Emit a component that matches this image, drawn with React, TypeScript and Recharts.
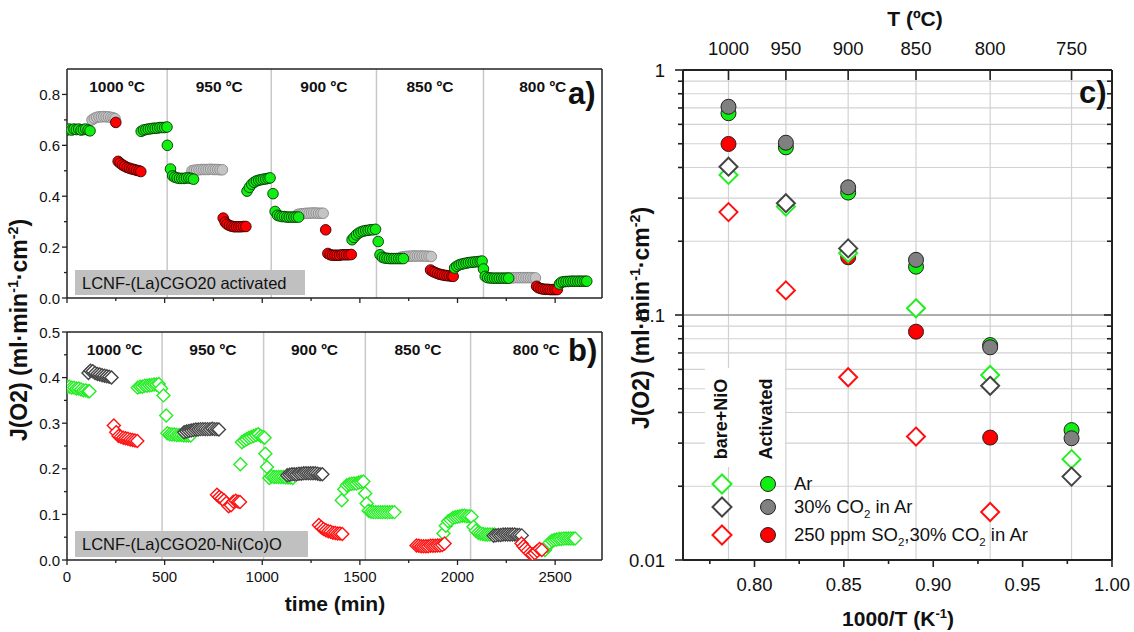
import React from "react";
import {
  ScatterChart,
  Scatter,
  XAxis,
  YAxis,
  CartesianGrid,
  ReferenceLine,
  ReferenceArea,
} from "recharts";

const FONT = "'Liberation Sans', Arial, Helvetica, sans-serif";

// panel a: LCNF-(La)CGO20 activated, [time (min), J(O2)]
const aAr = [
  [0, 0.66], [12, 0.664], [24, 0.66], [36, 0.664], [48, 0.662], [60, 0.664], [72, 0.66], [84, 0.662], [96, 0.664], [108, 0.66], [118, 0.657],
  [380, 0.655], [392, 0.66], [404, 0.662], [416, 0.664], [428, 0.665], [440, 0.667], [452, 0.667], [464, 0.668], [476, 0.67], [488, 0.67], [500, 0.67], [512, 0.672],
  [514, 0.6], [530, 0.507], [541, 0.48], [552, 0.475], [564, 0.472], [576, 0.47], [588, 0.47], [600, 0.47], [612, 0.472], [624, 0.472], [636, 0.47], [648, 0.467],
  [922, 0.42], [934, 0.435], [946, 0.447], [958, 0.455], [970, 0.46], [982, 0.463], [994, 0.465], [1006, 0.467], [1018, 0.468], [1030, 0.47], [1040, 0.472],
  [1055, 0.41], [1066, 0.34], [1078, 0.325], [1090, 0.322], [1102, 0.32], [1114, 0.32], [1126, 0.318], [1138, 0.318], [1150, 0.318], [1162, 0.318], [1174, 0.318], [1186, 0.318],
  [1460, 0.229], [1470, 0.238], [1482, 0.248], [1494, 0.255], [1506, 0.26], [1518, 0.263], [1530, 0.265], [1542, 0.266], [1554, 0.268], [1566, 0.268], [1580, 0.27],
  [1594, 0.222], [1603, 0.17], [1615, 0.16], [1627, 0.157], [1639, 0.156], [1651, 0.155], [1663, 0.155], [1675, 0.155], [1687, 0.155], [1699, 0.155], [1711, 0.155], [1723, 0.155],
  [1985, 0.118], [1996, 0.125], [2008, 0.13], [2020, 0.133], [2032, 0.135], [2044, 0.137], [2056, 0.139], [2068, 0.14], [2080, 0.141], [2092, 0.142], [2104, 0.143], [2116, 0.144], [2126, 0.145],
  [2133, 0.114], [2142, 0.085], [2154, 0.08], [2166, 0.079], [2178, 0.078], [2190, 0.078], [2202, 0.078], [2214, 0.078], [2226, 0.078], [2238, 0.078], [2250, 0.078], [2262, 0.078],
  [2522, 0.055], [2532, 0.062], [2544, 0.064], [2556, 0.065], [2568, 0.065], [2580, 0.066], [2592, 0.066], [2604, 0.066], [2616, 0.066], [2628, 0.066], [2640, 0.066], [2652, 0.066], [2662, 0.066],
];
const aCO2 = [
  [128, 0.7], [140, 0.706], [152, 0.71], [164, 0.712], [176, 0.712], [188, 0.713], [200, 0.712], [212, 0.712], [224, 0.71], [236, 0.708], [246, 0.705],
  [640, 0.5], [652, 0.502], [664, 0.503], [676, 0.504], [688, 0.505], [700, 0.505], [712, 0.505], [724, 0.505], [736, 0.506], [748, 0.505], [760, 0.505], [772, 0.505], [784, 0.504], [796, 0.504],
  [1180, 0.328], [1192, 0.33], [1204, 0.331], [1216, 0.332], [1228, 0.333], [1240, 0.333], [1252, 0.334], [1264, 0.334], [1276, 0.334], [1288, 0.333], [1300, 0.333], [1312, 0.333],
  [1710, 0.16], [1722, 0.162], [1734, 0.163], [1746, 0.164], [1758, 0.164], [1770, 0.165], [1782, 0.165], [1794, 0.165], [1806, 0.165], [1818, 0.165], [1830, 0.165], [1842, 0.164], [1854, 0.164], [1866, 0.163],
  [2255, 0.078], [2267, 0.079], [2279, 0.079], [2291, 0.08], [2303, 0.08], [2315, 0.08], [2327, 0.08], [2339, 0.08], [2351, 0.08], [2363, 0.08], [2375, 0.08], [2387, 0.079], [2399, 0.079],
];
const aSO2 = [
  [250, 0.69], [262, 0.537], [272, 0.53], [284, 0.523], [296, 0.518], [308, 0.513], [320, 0.51], [332, 0.507], [344, 0.505], [356, 0.502], [368, 0.5], [378, 0.497],
  [800, 0.314], [810, 0.298], [820, 0.29], [832, 0.285], [844, 0.282], [856, 0.28], [868, 0.28], [880, 0.28], [892, 0.28], [904, 0.281], [916, 0.281],
  [1325, 0.268], [1336, 0.175], [1348, 0.17], [1360, 0.168], [1372, 0.168], [1384, 0.168], [1396, 0.168], [1408, 0.17], [1420, 0.17], [1432, 0.17], [1444, 0.17], [1456, 0.171],
  [1862, 0.11], [1874, 0.104], [1886, 0.1], [1898, 0.096], [1910, 0.093], [1922, 0.091], [1934, 0.089], [1946, 0.088], [1958, 0.087], [1970, 0.086], [1978, 0.085],
  [2405, 0.046], [2415, 0.04], [2427, 0.037], [2439, 0.035], [2451, 0.034], [2463, 0.034], [2475, 0.033], [2487, 0.033], [2499, 0.033], [2511, 0.033],
];

// panel b: LCNF-(La)CGO20-Ni(Co)O
const bAr = [
  [0, 0.38], [12, 0.38], [24, 0.378], [36, 0.378], [48, 0.376], [60, 0.376], [72, 0.374], [84, 0.372], [96, 0.372], [108, 0.37], [115, 0.37],
  [362, 0.378], [374, 0.38], [386, 0.38], [398, 0.382], [410, 0.382], [422, 0.383], [434, 0.384], [446, 0.385], [458, 0.385], [470, 0.386],
  [482, 0.376], [494, 0.361], [508, 0.317], [514, 0.278], [526, 0.276], [538, 0.275], [550, 0.275], [562, 0.274], [574, 0.274], [586, 0.274], [598, 0.273], [610, 0.273], [622, 0.273], [634, 0.273],
  [888, 0.21], [896, 0.258], [908, 0.262], [920, 0.265], [932, 0.268], [944, 0.27], [956, 0.272], [968, 0.274], [980, 0.276], [992, 0.272], [1004, 0.27], [1012, 0.268],
  [1016, 0.233], [1024, 0.204], [1036, 0.18], [1048, 0.183], [1060, 0.182], [1072, 0.182], [1084, 0.182], [1096, 0.182], [1108, 0.182], [1120, 0.181], [1132, 0.181], [1144, 0.181], [1156, 0.18],
  [1407, 0.131], [1420, 0.155], [1433, 0.164], [1446, 0.166], [1458, 0.167], [1470, 0.168], [1482, 0.168], [1494, 0.17], [1506, 0.171], [1518, 0.172],
  [1527, 0.146], [1535, 0.124], [1545, 0.108], [1557, 0.106], [1569, 0.105], [1581, 0.105], [1593, 0.105], [1605, 0.105], [1617, 0.105], [1629, 0.105], [1641, 0.105], [1653, 0.105], [1665, 0.105], [1677, 0.105],
  [1928, 0.058], [1940, 0.075], [1952, 0.085], [1964, 0.088], [1976, 0.092], [1988, 0.094], [2000, 0.095], [2012, 0.096], [2024, 0.097], [2036, 0.097], [2048, 0.096], [2060, 0.096], [2072, 0.095],
  [2082, 0.073], [2094, 0.064], [2106, 0.06], [2118, 0.058], [2130, 0.057], [2142, 0.056], [2154, 0.056], [2166, 0.056], [2178, 0.056], [2190, 0.056],
  [2448, 0.022], [2460, 0.03], [2472, 0.038], [2484, 0.042], [2496, 0.044], [2508, 0.045], [2520, 0.046], [2532, 0.046], [2544, 0.047], [2556, 0.047], [2568, 0.047], [2580, 0.047], [2592, 0.047], [2602, 0.047],
];
const bCO2 = [
  [110, 0.41], [120, 0.415], [132, 0.414], [144, 0.41], [156, 0.408], [168, 0.407], [180, 0.405], [192, 0.404], [204, 0.403], [216, 0.402], [228, 0.4],
  [600, 0.28], [612, 0.282], [624, 0.283], [636, 0.284], [648, 0.285], [660, 0.286], [672, 0.286], [684, 0.287], [696, 0.287], [708, 0.287], [720, 0.287], [732, 0.287], [744, 0.288], [756, 0.287], [768, 0.287], [778, 0.286],
  [1128, 0.186], [1140, 0.187], [1152, 0.188], [1164, 0.188], [1176, 0.188], [1188, 0.189], [1200, 0.189], [1212, 0.19], [1224, 0.19], [1236, 0.19], [1248, 0.19], [1260, 0.19], [1272, 0.19], [1284, 0.189], [1296, 0.188], [1308, 0.188],
  [2185, 0.053], [2197, 0.054], [2209, 0.055], [2221, 0.055], [2233, 0.056], [2245, 0.056], [2257, 0.056], [2269, 0.056], [2281, 0.056], [2293, 0.056], [2305, 0.055], [2317, 0.055], [2329, 0.054],
];
const bSO2 = [
  [240, 0.295], [252, 0.28], [264, 0.272], [276, 0.27], [288, 0.268], [300, 0.267], [312, 0.266], [324, 0.264], [336, 0.263], [348, 0.262], [360, 0.261],
  [768, 0.143], [780, 0.138], [792, 0.135], [804, 0.131], [816, 0.125], [828, 0.118], [840, 0.12], [852, 0.128], [864, 0.13], [876, 0.128], [886, 0.127],
  [1290, 0.077], [1302, 0.072], [1314, 0.068], [1326, 0.065], [1338, 0.063], [1350, 0.062], [1362, 0.06], [1374, 0.059], [1386, 0.058], [1398, 0.058], [1410, 0.057],
  [1790, 0.032], [1802, 0.031], [1814, 0.03], [1826, 0.03], [1838, 0.03], [1850, 0.03], [1862, 0.031], [1874, 0.031], [1886, 0.031], [1898, 0.032], [1910, 0.032], [1922, 0.033], [1934, 0.036],
  [2328, 0.036], [2338, 0.03], [2348, 0.025], [2360, 0.02], [2372, 0.015], [2384, 0.012], [2396, 0.015], [2408, 0.02], [2420, 0.024], [2432, 0.022],
];

const tempLabels = ["1000 ºC", "950 ºC", "900 ºC", "850 ºC", "800 ºC"];
const stepsA = [513, 1046, 1585, 2133];
const stepsB = [487, 1007, 1528, 2067];
const TIME_MAX = 2740;
const timeTicks = [0, 250, 500, 750, 1000, 1250, 1500, 1750, 2000, 2250, 2500];
const timeMajor = [0, 500, 1000, 1500, 2000, 2500];
const jTicksA = [0, 0.1, 0.2, 0.3, 0.4, 0.5, 0.6, 0.7, 0.8];
const jMajorA = [0, 0.2, 0.4, 0.6, 0.8];
const jTicksB = [0, 0.05, 0.1, 0.15, 0.2, 0.25, 0.3, 0.35, 0.4, 0.45, 0.5];
const jMajorB = [0, 0.1, 0.2, 0.3, 0.4, 0.5];

// panel c: J(O2) vs 1000/T, one value per temperature (null = not measured)
const tempsC = [1000, 950, 900, 850, 800, 750];
const actAr = [0.666, 0.4835, 0.316, 0.1575, 0.0754, 0.0339];
const actCO2 = [0.708, 0.505, 0.332, 0.168, 0.0738, 0.0314];
const actSO2 = [0.499, null, 0.172, 0.0855, 0.0316, null];
const bareAr = [0.373, 0.277, 0.179, 0.1065, 0.0569, 0.0258];
const bareCO2 = [0.403, 0.286, 0.187, null, 0.0514, 0.0219];
const bareSO2 = [0.263, 0.126, 0.0557, 0.0319, 0.0157, null];
const invTTicks = [0.775, 0.8, 0.825, 0.85, 0.875, 0.9, 0.925, 0.95, 0.975, 1.0];
const invTMajor = [0.8, 0.85, 0.9, 0.95, 1.0];
const logTicks = [
  0.01, 0.02, 0.03, 0.04, 0.05, 0.06, 0.07, 0.08, 0.09,
  0.1, 0.2, 0.3, 0.4, 0.5, 0.6, 0.7, 0.8, 0.9, 1,
];
const logMajor = [0.01, 0.1, 1];

const invT = (t: number) => 1000 / (t + 273.15);
const pts = (arr: number[][]) => arr.map(([t, v]) => ({ t, v }));
const ptsC = (vals: (number | null)[]) =>
  tempsC
    .map((T, i) => ({ x: invT(T), y: vals[i] }))
    .filter((p) => p.y != null);

type TickCfg = {
  side: "left" | "right" | "bottom" | "top";
  majors: number[];
  fmt?: (v: number) => string;
  majorLen: number;
  minorLen: number;
  inward?: boolean;
  offset?: number;
  fontSize?: number;
  sw?: number;
};

function AxisTick({ x, y, payload, cfg }: any) {
  const c: TickCfg = cfg;
  const v = payload.value;
  const major = c.majors.some((m) => Math.abs(m - v) < 1e-6);
  const len = major ? c.majorLen : c.minorLen;
  const s = c.inward ? -1 : 1;
  const txt = major && c.fmt ? c.fmt(v) : null;
  const tp = { fontFamily: FONT, fontSize: c.fontSize, fill: "#111" };
  let x2 = x, y2 = y, label = null;
  if (c.side === "left") {
    x2 = x - s * len;
    if (txt) label = <text x={x - (c.offset ?? 0)} y={y} textAnchor="end" dominantBaseline="central" {...tp}>{txt}</text>;
  } else if (c.side === "right") {
    x2 = x + s * len;
  } else if (c.side === "bottom") {
    y2 = y + s * len;
    if (txt) label = <text x={x} y={y + (c.offset ?? 0)} textAnchor="middle" {...tp}>{txt}</text>;
  } else {
    y2 = y - s * len;
    if (txt) label = <text x={x} y={y - (c.offset ?? 0)} textAnchor="middle" {...tp}>{txt}</text>;
  }
  return (
    <g>
      <line x1={x} y1={y} x2={x2} y2={y2} stroke="#222" strokeWidth={c.sw ?? 1.3} />
      {label}
    </g>
  );
}

const circle = (fill: string, stroke: string, r: number, sw = 1) => (p: any) =>
  <circle cx={p.cx} cy={p.cy} r={r} fill={fill} stroke={stroke} strokeWidth={sw} />;

const diamond = (stroke: string, h: number, sw: number) => (p: any) => {
  const { cx, cy } = p;
  return (
    <polygon
      points={`${cx},${cy - h} ${cx + h},${cy} ${cx},${cy + h} ${cx - h},${cy}`}
      fill="#fff"
      stroke={stroke}
      strokeWidth={sw}
    />
  );
};

function TimePanel({
  top, height, margin, yMax, yTicks, yMajor, steps, showTimeLabels, children,
}: any) {
  const edges = [0, ...steps, TIME_MAX];
  return (
    <div style={{ position: "absolute", left: 0, top }}>
      <ScatterChart width={620} height={height} margin={margin}>
        {steps.map((s: number) => (
          <ReferenceLine key={s} x={s} stroke="#c8c8c8" strokeWidth={1.5} />
        ))}
        {tempLabels.map((lab, i) => (
          <ReferenceArea
            key={lab}
            x1={edges[i]}
            x2={edges[i + 1]}
            fill="none"
            stroke="none"
            label={{
              value: lab, position: "insideTop", offset: 12, fill: "#111",
              fontSize: 15.5, fontWeight: "bold", fontFamily: FONT,
            }}
          />
        ))}
        <XAxis
          type="number"
          dataKey="t"
          domain={[0, TIME_MAX]}
          ticks={timeTicks}
          interval={0}
          allowDataOverflow
          height={showTimeLabels ? 30 : 10}
          tickSize={0}
          tickMargin={0}
          tickLine={false}
          axisLine={{ stroke: "#222", strokeWidth: 1.5 }}
          tick={(p: any) => (
            <AxisTick
              {...p}
              cfg={{
                side: "bottom", majors: timeMajor, majorLen: 5, minorLen: 3,
                fmt: showTimeLabels ? (v: number) => String(v) : undefined,
                offset: 22, fontSize: 15,
              }}
            />
          )}
        />
        <YAxis
          type="number"
          dataKey="v"
          domain={[0, yMax]}
          ticks={yTicks}
          interval={0}
          allowDataOverflow
          width={40}
          tickSize={0}
          tickMargin={0}
          tickLine={false}
          axisLine={{ stroke: "#222", strokeWidth: 1.5 }}
          tick={(p: any) => (
            <AxisTick
              {...p}
              cfg={{
                side: "left", majors: yMajor, majorLen: 5, minorLen: 3,
                fmt: (v: number) => v.toFixed(1), offset: 7, fontSize: 15,
              }}
            />
          )}
        />
        <ReferenceLine y={yMax} stroke="#222" strokeWidth={1.5} />
        <ReferenceLine x={TIME_MAX} stroke="#222" strokeWidth={1.5} />
        {children}
      </ScatterChart>
    </div>
  );
}

const sup: React.CSSProperties = { fontSize: "0.62em", verticalAlign: "super", lineHeight: 0 };
const sub: React.CSSProperties = { fontSize: "0.62em", verticalAlign: "sub", lineHeight: 0 };

const jLabel = (
  <>J(O2) (ml·min<span style={sup}>-1</span>·cm<span style={sup}>-2</span>)</>
);

const legendLabels = [
  <>Ar</>,
  <>30% CO<span style={sub}>2</span> in Ar</>,
  <>250 ppm SO<span style={sub}>2</span>,30% CO<span style={sub}>2</span> in Ar</>,
];
const legendDiamond = ["#22ee22", "#444", "#ff1010"];
const legendCircle = ["#11ee11", "#808080", "#ff0000"];
const legendRowY = [484, 507, 535];

function abs(left: number, top: number, extra: React.CSSProperties = {}): React.CSSProperties {
  return { position: "absolute", left, top, ...extra };
}

export default function App() {
  const rot = (cx: number, cy: number, size: number): React.CSSProperties => ({
    position: "absolute", left: cx, top: cy, whiteSpace: "nowrap",
    transform: "translate(-50%,-50%) rotate(-90deg)", fontWeight: "bold",
    fontSize: size, lineHeight: 1,
  });
  const boxStyle: React.CSSProperties = {
    position: "absolute", background: "#c0c0c0", fontSize: 16.5, color: "#111",
    paddingLeft: 7, boxSizing: "border-box", lineHeight: "26px",
  };
  return (
    <div
      style={{
        position: "absolute", left: 0, top: 0, width: 1134, height: 632,
        background: "#fff", fontFamily: FONT, color: "#111", overflow: "hidden",
      }}
    >
      <TimePanel
        top={0}
        height={310}
        margin={{ top: 69, right: 18, bottom: 2, left: 27 }}
        yMax={0.9}
        yTicks={jTicksA}
        yMajor={jMajorA}
        steps={stepsA}
        showTimeLabels={false}
      >
        <Scatter data={pts(aCO2)} isAnimationActive={false} shape={circle("#c4c4c4", "#8a8a8a", 5.3, 0.9)} />
        <Scatter data={pts(aSO2)} isAnimationActive={false} shape={circle("#ff0000", "#3a0000", 5.3, 0.9)} />
        <Scatter data={pts(aAr)} isAnimationActive={false} shape={circle("#11ee11", "#063806", 5.3, 0.9)} />
      </TimePanel>

      <TimePanel
        top={310}
        height={322}
        margin={{ top: 22, right: 18, bottom: 42, left: 27 }}
        yMax={0.5}
        yTicks={jTicksB}
        yMajor={jMajorB}
        steps={stepsB}
        showTimeLabels={true}
      >
        <Scatter data={pts(bAr)} isAnimationActive={false} shape={diamond("#22ee22", 6.5, 1.4)} />
        <Scatter data={pts(bCO2)} isAnimationActive={false} shape={diamond("#444", 6.5, 1.4)} />
        <Scatter data={pts(bSO2)} isAnimationActive={false} shape={diamond("#ff1010", 6.5, 1.4)} />
      </TimePanel>

      <div style={abs(620, 0)}>
        <ScatterChart width={514} height={632} margin={{ top: 0, right: 21, bottom: 42, left: 0 }}>
          <CartesianGrid vertical={false} stroke="#d2d2d2" strokeWidth={1.2} />
          {tempsC.map((T) => (
            <ReferenceLine key={T} x={invT(T)} stroke="#d2d2d2" strokeWidth={1.2} />
          ))}
          <ReferenceLine y={0.1} stroke="#9a9a9a" strokeWidth={1.4} />
          <XAxis
            type="number"
            dataKey="x"
            domain={[0.76, 1.0]}
            ticks={invTTicks}
            interval={0}
            allowDataOverflow
            height={30}
            tickSize={0}
            tickMargin={0}
            tickLine={false}
            axisLine={{ stroke: "#222", strokeWidth: 2 }}
            tick={(p: any) => (
              <AxisTick
                {...p}
                cfg={{
                  side: "bottom", majors: invTMajor, majorLen: 7, minorLen: 4,
                  fmt: (v: number) => v.toFixed(2), offset: 31, fontSize: 18.5, sw: 1.6,
                }}
              />
            )}
          />
          <XAxis
            xAxisId="top"
            orientation="top"
            type="number"
            dataKey="x"
            domain={[0.76, 1.0]}
            ticks={tempsC.map(invT)}
            interval={0}
            allowDataOverflow
            height={70}
            tickSize={0}
            tickMargin={0}
            tickLine={false}
            axisLine={{ stroke: "#222", strokeWidth: 2 }}
            tick={(p: any) => (
              <AxisTick
                {...p}
                cfg={{
                  side: "top", majors: tempsC.map(invT), majorLen: 10, minorLen: 10,
                  inward: true, offset: 15, fontSize: 18.5, sw: 1.6,
                  fmt: (v: number) => String(Math.round(1000 / v - 273.15)),
                }}
              />
            )}
          />
          <YAxis
            type="number"
            dataKey="y"
            scale="log"
            domain={[0.01, 1]}
            ticks={logTicks}
            interval={0}
            allowDataOverflow
            width={63}
            tickSize={0}
            tickMargin={0}
            tickLine={false}
            axisLine={{ stroke: "#222", strokeWidth: 2 }}
            tick={(p: any) => (
              <AxisTick
                {...p}
                cfg={{
                  side: "left", majors: logMajor, majorLen: 8, minorLen: 5,
                  fmt: (v: number) => String(v), offset: 18, fontSize: 18.5, sw: 1.6,
                }}
              />
            )}
          />
          <YAxis
            yAxisId="r"
            orientation="right"
            type="number"
            dataKey="y"
            scale="log"
            domain={[0.01, 1]}
            ticks={logTicks}
            interval={0}
            allowDataOverflow
            width={1}
            tickSize={0}
            tickMargin={0}
            tickLine={false}
            axisLine={{ stroke: "#222", strokeWidth: 2 }}
            tick={(p: any) => (
              <AxisTick
                {...p}
                cfg={{ side: "right", majors: logMajor, majorLen: 8, minorLen: 5, inward: true, sw: 1.6 }}
              />
            )}
          />
          {/* activated membrane: bottom/left axes */}
          <Scatter data={ptsC(actSO2)} isAnimationActive={false} shape={circle("#ff0000", "#222", 7.5, 1)} />
          <Scatter data={ptsC(actAr)} isAnimationActive={false} shape={circle("#11ee11", "#222", 7.5, 1)} />
          <Scatter data={ptsC(actCO2)} isAnimationActive={false} shape={circle("#808080", "#222", 7.5, 1)} />
          {/* bare+NiO membrane: plotted on the top/right axes (same scales) */}
          <Scatter xAxisId="top" yAxisId="r" data={ptsC(bareSO2)} isAnimationActive={false} shape={diamond("#ff1010", 9, 2)} />
          <Scatter xAxisId="top" yAxisId="r" data={ptsC(bareAr)} isAnimationActive={false} shape={diamond("#22ee22", 9, 2)} />
          <Scatter xAxisId="top" yAxisId="r" data={ptsC(bareCO2)} isAnimationActive={false} shape={diamond("#444", 9, 2)} />
        </ScatterChart>
      </div>

      {/* sample tags */}
      <div style={{ ...boxStyle, left: 75, top: 270, width: 230, height: 25 }}>LCNF-(La)CGO20 activated</div>
      <div style={{ ...boxStyle, left: 75, top: 531, width: 233, height: 26 }}>LCNF-(La)CGO20-Ni(Co)O</div>

      {/* panel letters */}
      <div style={abs(568, 76, { fontWeight: "bold", fontSize: 31 })}>a)</div>
      <div style={abs(568, 333, { fontWeight: "bold", fontSize: 31 })}>b)</div>
      <div style={abs(1079, 75, { fontWeight: "bold", fontSize: 31 })}>c)</div>

      {/* axis titles */}
      <div style={rot(19, 330, 23)}>{jLabel}</div>
      <div style={rot(641, 318, 23)}>{jLabel}</div>
      <div style={abs(335, 604, { transform: "translate(-50%,-50%)", fontWeight: "bold", fontSize: 21, whiteSpace: "nowrap" })}>
        time (min)
      </div>
      <div style={abs(898, 619, { transform: "translate(-50%,-50%)", fontWeight: "bold", fontSize: 21, whiteSpace: "nowrap" })}>
        1000/T (K<span style={sup}>-1</span>)
      </div>
      <div style={abs(915, 19, { transform: "translate(-50%,-50%)", fontWeight: "bold", fontSize: 21, whiteSpace: "nowrap" })}>
        T (ºC)
      </div>

      {/* legend of panel c */}
      <div style={abs(705, 368, { width: 80, height: 99, background: "#fff" })} />
      <div style={rot(721, 419, 18)}>bare+NiO</div>
      <div style={rot(766, 419, 18)}>Activated</div>
      {legendLabels.map((lab, i) => (
        <React.Fragment key={i}>
          <svg style={abs(710, legendRowY[i] - 12)} width={24} height={24}>
            <polygon points="12,2.5 21.5,12 12,21.5 2.5,12" fill="#fff" stroke={legendDiamond[i]} strokeWidth={2} />
          </svg>
          <svg style={abs(756, legendRowY[i] - 12)} width={24} height={24}>
            <circle cx={12} cy={12} r={7.5} fill={legendCircle[i]} stroke="#222" strokeWidth={1} />
          </svg>
          <div style={abs(794, legendRowY[i] - 11, { fontSize: 18.5, lineHeight: "22px", whiteSpace: "nowrap" })}>{lab}</div>
        </React.Fragment>
      ))}
    </div>
  );
}
